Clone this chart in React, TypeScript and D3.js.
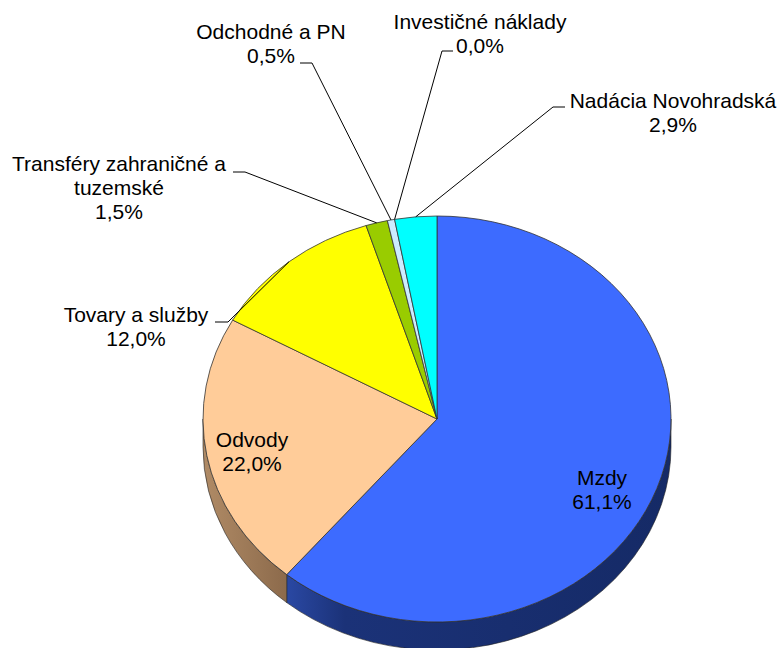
import React from "react";
import * as d3 from "d3";

const categories = [
  "Mzdy",
  "Odvody",
  "Tovary a služby",
  "Transféry zahraničné a tuzemské",
  "Odchodné a PN",
  "Investičné náklady",
  "Nadácia Novohradská",
];
const values = [61.1, 22.0, 12.0, 1.5, 0.5, 0.0, 2.9];
const valueLabels = ["61,1%", "22,0%", "12,0%", "1,5%", "0,5%", "0,0%", "2,9%"];
const labelLines = [
  ["Mzdy"],
  ["Odvody"],
  ["Tovary a služby"],
  ["Transféry zahraničné a", "tuzemské"],
  ["Odchodné a PN"],
  ["Investičné náklady"],
  ["Nadácia Novohradská"],
];
const topColors = ["#3d6bff", "#ffcc99", "#ffff00", "#99cc00", "#ccecff", "#ff99cc", "#00ffff"];

const W = 780;
const H = 648;
const cx = 437;
const cy = 419;
const rx = 234;
const ry = 203;
const depth = 28;
const fontSize = 21;
const lineH = 24;

// label layout: text centre x, first baseline y, leader stub [x1, x2, y] (null = inside label)
const labelLayout: { x: number; y: number; stub: [number, number, number] | null }[] = [
  { x: 602, y: 485, stub: null },
  { x: 252, y: 447, stub: null },
  { x: 136, y: 322, stub: [215, 228, 322] },
  { x: 119, y: 171, stub: [233, 245, 172] },
  { x: 271, y: 39, stub: [300, 312, 63] },
  { x: 480, y: 29, stub: [453, 442, 51] },
  { x: 673, y: 108, stub: [565, 553, 107] },
];

const pt = (a: number, dy = 0): [number, number] => [cx + rx * Math.sin(a), cy - ry * Math.cos(a) + dy];

function topPath(a0: number, a1: number) {
  const [x0, y0] = pt(a0);
  const [x1, y1] = pt(a1);
  const large = a1 - a0 > Math.PI ? 1 : 0;
  return `M${cx},${cy}L${x0},${y0}A${rx},${ry} 0 ${large} 1 ${x1},${y1}Z`;
}

function sidePath(a0: number, a1: number) {
  const [x0, y0] = pt(a0);
  const [x1, y1] = pt(a1);
  const [x2, y2] = pt(a1, depth);
  const [x3, y3] = pt(a0, depth);
  const large = a1 - a0 > Math.PI ? 1 : 0;
  return `M${x0},${y0}A${rx},${ry} 0 ${large} 1 ${x1},${y1}L${x2},${y2}A${rx},${ry} 0 ${large} 0 ${x3},${y3}Z`;
}

export default function App() {
  const pie = d3
    .pie<number>()
    .sort(null)
    .startAngle(0)
    .endAngle(2 * Math.PI)
    .value((d) => d);
  const arcs = pie(values);

  const sideGrads = [
    { id: "g0", x1: 287, x2: 671, stops: [["0", "#2a48a3"], ["0.15", "#1b3278"], ["1", "#152a66"]] },
    { id: "g1", x1: 203, x2: 287, stops: [["0", "#b08b66"], ["1", "#8c6a4b"]] },
  ];

  return (
    <svg
      width={W}
      height={H}
      style={{ position: "absolute", left: 0, top: 0, background: "#fff" }}
      fontFamily="'Liberation Sans', Arial, sans-serif"
    >
      <defs>
        {sideGrads.map((g) => (
          <linearGradient key={g.id} id={g.id} gradientUnits="userSpaceOnUse" x1={g.x1} x2={g.x2} y1={0} y2={0}>
            {g.stops.map(([o, c]) => (
              <stop key={o} offset={o} stopColor={c} />
            ))}
          </linearGradient>
        ))}
      </defs>

      {/* side walls, front half only */}
      {arcs.map((a, i) => {
        const s = Math.max(a.startAngle, Math.PI / 2);
        const e = Math.min(a.endAngle, (3 * Math.PI) / 2);
        if (e <= s) return null;
        return (
          <path
            key={"side" + i}
            d={sidePath(s, e)}
            fill={i < 2 ? `url(#g${i})` : d3.color(topColors[i])!.darker(1.2).toString()}
            stroke="#222"
            strokeWidth={0.6}
          />
        );
      })}

      {/* top faces */}
      {arcs.map((a, i) =>
        a.endAngle - a.startAngle > 0 ? (
          <path key={"top" + i} d={topPath(a.startAngle, a.endAngle)} fill={topColors[i]} stroke="#333" strokeWidth={0.8} />
        ) : null
      )}

      {/* leader lines */}
      {arcs.map((a, i) => {
        const l = labelLayout[i].stub;
        if (!l) return null;
        const [ex, ey] = pt((a.startAngle + a.endAngle) / 2);
        return (
          <polyline
            key={"lead" + i}
            points={`${l[0]},${l[2]} ${l[1]},${l[2]} ${ex},${ey}`}
            fill="none"
            stroke="#000"
            strokeWidth={1}
          />
        );
      })}

      {/* labels */}
      {categories.map((c, i) => {
        const lay = labelLayout[i];
        const lines = [...labelLines[i], valueLabels[i]];
        return (
          <text key={"lab" + c} x={lay.x} y={lay.y} textAnchor="middle" fontSize={fontSize} fill="#000">
            {lines.map((t, j) => (
              <tspan key={j} x={lay.x} y={lay.y + j * lineH}>
                {t}
              </tspan>
            ))}
          </text>
        );
      })}
    </svg>
  );
}
